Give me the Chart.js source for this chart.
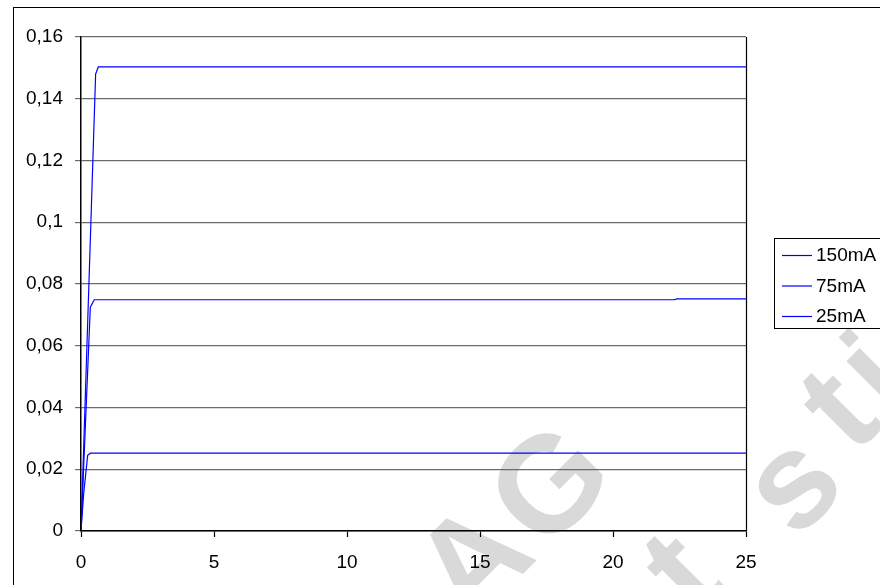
<!DOCTYPE html>
<html>
<head>
<meta charset="utf-8">
<script src="https://cdn.jsdelivr.net/npm/chart.js@4.4.1/dist/chart.umd.min.js"></script>
<style>
  html, body { margin: 0; padding: 0; background: #fff; overflow: hidden; }
  canvas { display: block; }
</style>
</head>
<body>
<canvas id="myCanvas" width="880" height="585"></canvas>
<script>
// values (x = time, y = value)
const labels = ['150mA', '75mA', '25mA'];

const x150 = [0, 0.55, 0.65, 25];
const y150 = [0, 0.148, 0.1503, 0.1503];

const x75 = [0, 0.35, 0.5, 22.3, 22.4, 25];
const y75 = [0, 0.0725, 0.0749, 0.0749, 0.0752, 0.0752];

const x25 = [0, 0.1, 0.25, 0.35, 25];
const y25 = [0, 0.012, 0.0245, 0.0252, 0.0252];

const xTicks = [0, 5, 10, 15, 20, 25];
const yTicks = [0, 0.02, 0.04, 0.06, 0.08, 0.1, 0.12, 0.14, 0.16];

const FONT = 'Arial, "Liberation Sans", sans-serif';

function toPoints(xs, ys) {
  return xs.map((x, i) => ({x: x, y: ys[i]}));
}

const datasets = [[x150, y150], [x75, y75], [x25, y25]].map((d, i) => ({
  label: labels[i],
  data: toPoints(d[0], d[1]),
  borderColor: '#0000ff',
  borderWidth: 1.2,
  pointRadius: 0,
  tension: 0,
  fill: false
}));

// background frame + light watermark letters
const backdrop = {
  id: 'backdrop',
  beforeDraw(chart) {
    const c = chart.ctx;
    c.save();
    c.fillStyle = '#fff';
    c.fillRect(0, 0, chart.width, chart.height);
    c.fillStyle = '#d9d9d9';
    c.font = 'bold 136px ' + FONT;
    c.textAlign = 'center';
    c.textBaseline = 'middle';
    [['A', 478, 566], ['G', 555, 490], ['t', 686, 577], ['s', 796, 488], ['t', 843, 414], ['ü', 894, 362]].forEach(l => {
      c.save();
      c.translate(l[1], l[2]);
      c.rotate(-Math.PI / 4);
      c.fillText(l[0], 0, 0);
      c.restore();
    });
    c.strokeStyle = '#000';
    c.lineWidth = 1;
    c.strokeRect(13.5, 7.5, 1000, 1000);
    c.restore();
  },
  afterDraw(chart) {
    const c = chart.ctx;
    const a = chart.chartArea;
    c.save();
    // right edge of plot area
    c.strokeStyle = '#000';
    c.lineWidth = 1.2;
    c.beginPath();
    c.moveTo(a.right + 0.5, a.top);
    c.lineTo(a.right + 0.5, a.bottom);
    c.stroke();
    // legend box
    const bx = 774.5, by = 238.5, rowH = 30.5;
    c.fillStyle = '#fff';
    c.fillRect(bx, by, 200, 90);
    c.strokeStyle = '#000';
    c.lineWidth = 1;
    c.strokeRect(bx, by, 200, 90);
    c.font = '19px ' + FONT;
    c.textBaseline = 'middle';
    c.textAlign = 'left';
    chart.data.datasets.forEach((ds, i) => {
      const y = 255 + i * rowH;
      c.strokeStyle = ds.borderColor;
      c.lineWidth = 1.2;
      c.beginPath();
      c.moveTo(782, y + 0.5);
      c.lineTo(812, y + 0.5);
      c.stroke();
      c.fillStyle = '#000';
      c.fillText(ds.label, 816, y + 1);
    });
    c.restore();
  }
};

const ctx = document.getElementById('myCanvas').getContext('2d');

const myChart = new Chart(ctx, {
  type: 'line',
  data: { datasets: datasets },
  options: {
    responsive: false,
    animation: false,
    devicePixelRatio: 1,
    layout: { padding: { top: 37, right: 134, bottom: 0, left: 0 } },
    plugins: { legend: { display: false }, tooltip: { enabled: false } },
    scales: {
      x: {
        type: 'linear',
        min: 0,
        max: 25,
        afterFit(scale) { scale.height = 54; },
        afterBuildTicks(scale) { scale.ticks = xTicks.map(v => ({value: v})); },
        ticks: {
          color: '#000',
          font: { family: FONT, size: 19 },
          padding: 14,
          maxRotation: 0,
          autoSkip: false
        },
        grid: { drawOnChartArea: false, tickLength: 6, tickColor: '#000', tickWidth: 1.2 },
        border: { color: '#000', width: 1.5 }
      },
      y: {
        min: 0,
        max: 0.16,
        afterFit(scale) { scale.width = 81; },
        afterBuildTicks(scale) { scale.ticks = yTicks.map(v => ({value: v})); },
        ticks: {
          color: '#000',
          font: { family: FONT, size: 19 },
          padding: 12,
          callback: v => String(+v.toFixed(2)).replace('.', ',')
        },
        grid: { color: '#6b6b6b', lineWidth: 1.2, tickLength: 6, tickColor: '#6b6b6b' },
        border: { color: '#000', width: 1.5 }
      }
    }
  },
  plugins: [backdrop]
});
</script>
</body>
</html>
